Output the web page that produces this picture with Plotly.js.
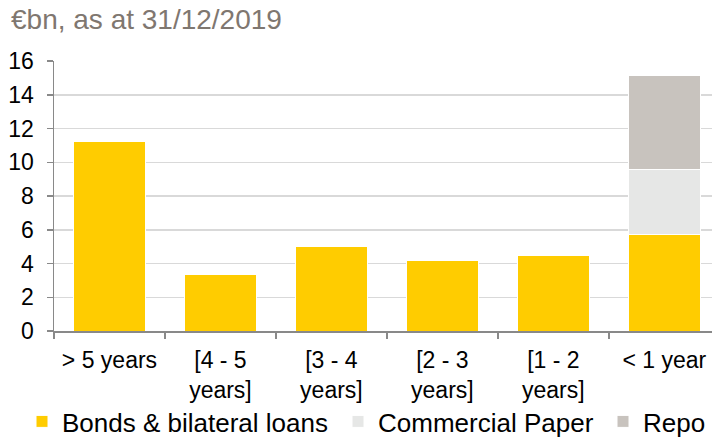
<!DOCTYPE html>
<html>
<head>
<meta charset="utf-8">
<script src="https://cdn.plot.ly/plotly-3.0.1.min.js"></script>
<style>html,body{margin:0;padding:0;background:#fff;}#chart{width:712px;height:440px;}</style>
</head>
<body>
<div id="chart"></div>
<script>
const categories = ["> 5 years", "[4 - 5<br>years]", "[3 - 4<br>years]", "[2 - 3<br>years]", "[1 - 2<br>years]", "< 1 year"];
const bondsLoans = [11.25, 3.32, 5.0, 4.17, 4.46, 5.7];
const commercialPaper = [0, 0, 0, 0, 0, 3.85];
const repo = [0, 0, 0, 0, 0, 5.6];
const yTicks = [0, 2, 4, 6, 8, 10, 12, 14, 16];

const FONT = "Liberation Sans, Arial, sans-serif";
const line = {color: "#ffffff", width: 1};

const traces = [
  {type: "bar", name: "Bonds & bilateral loans", x: categories, y: bondsLoans, marker: {color: "#FFCC00", line: line}, legend: "legend"},
  {type: "bar", name: "Commercial Paper", x: categories, y: commercialPaper, marker: {color: "#E6E7E6", line: line}, legend: "legend2"},
  {type: "bar", name: "Repo", x: categories, y: repo, marker: {color: "#C8C3BE", line: line}, legend: "legend3"}
];

const legendFont = {family: FONT, size: 26, color: "#000000"};
const legendBase = {orientation: "h", xref: "container", yref: "container", xanchor: "left",
                    yanchor: "top", y: 1 - 398/440, font: legendFont, bgcolor: "rgba(0,0,0,0)", borderwidth: 0};

const layout = {
  width: 712, height: 440,
  margin: {l: 54, r: 0, t: 61, b: 109, pad: 0, autoexpand: false},
  paper_bgcolor: "#ffffff", plot_bgcolor: "#ffffff",
  barmode: "stack", bargap: 0.35,
  font: {family: FONT, color: "#000000", size: 23},
  title: {text: "€bn, as at 31/12/2019", font: {family: FONT, size: 28, color: "#7F7770"},
          xref: "container", yref: "container", x: 11/712, xanchor: "left", y: 1 - 19/440, yanchor: "middle"},
  xaxis: {
    type: "category", range: [-0.5, 5.43], fixedrange: true,
    tickson: "boundaries", ticks: "outside", ticklen: 6, tickcolor: "#898989", tickwidth: 1.5,
    showline: true, linecolor: "#898989", linewidth: 1.5,
    showgrid: false, ticklabelstandoff: 8,
    tickfont: {family: FONT, size: 23, color: "#000000"}
  },
  yaxis: {
    range: [0, 16], tickvals: yTicks, ticktext: yTicks.map(String),
    ticks: "outside", ticklen: 6, tickcolor: "#898989", tickwidth: 1.5,
    showline: true, linecolor: "#898989", linewidth: 1.5,
    showgrid: true, gridcolor: "#D9D9D9", gridwidth: 1.5, zeroline: false,
    ticklabelstandoff: 8,
    tickfont: {family: FONT, size: 23, color: "#000000"}
  },
  showlegend: true,
  legend: Object.assign({}, legendBase, {x: 22/712}),
  legend2: Object.assign({}, legendBase, {x: 338/712}),
  legend3: Object.assign({}, legendBase, {x: 603/712})
};

Plotly.newPlot("chart", traces, layout, {displayModeBar: false, staticPlot: true});
</script>
</body>
</html>
